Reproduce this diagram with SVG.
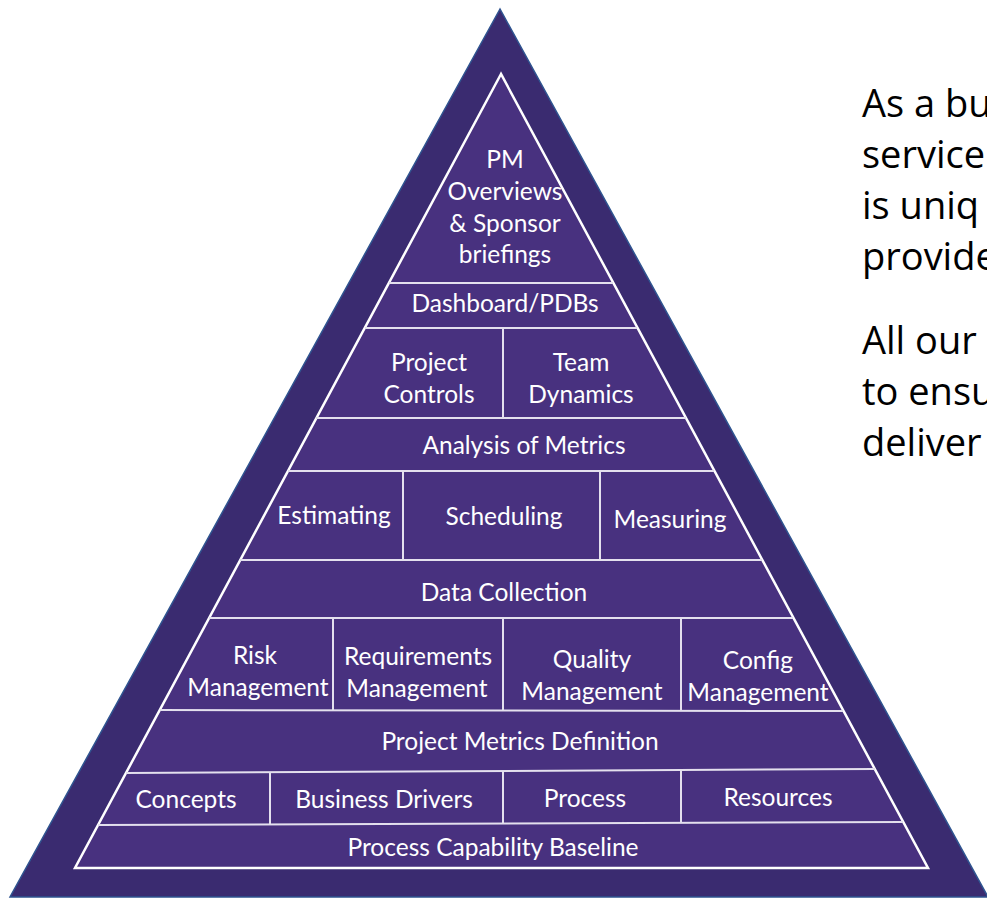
<svg xmlns="http://www.w3.org/2000/svg" width="987" height="898" viewBox="0 0 987 898">
  <style>
    .lbl { font-family: Lato, "Open Sans", "Liberation Sans", sans-serif; font-size: 24.5px; fill: #ffffff; text-anchor: middle; }
    .body { font-family: "Open Sans", Lato, "Liberation Sans", sans-serif; font-size: 38px; fill: #000000; }
    .div { stroke: #e4e0ee; stroke-width: 2; fill: none; }
  </style>
  <rect width="987" height="898" fill="#ffffff"/>
  <g id="frame">
    <polygon points="500,9 10,897 988,897" fill="#3a2b70" stroke="#2f5490" stroke-width="1.5"/>
    <polygon points="501,74 75,868 928,868" fill="#48317f" stroke="#ffffff" stroke-width="2.5"/>
  </g>
  <g id="connectors">
    <line class="div" x1="389" y1="283" x2="613" y2="283"/>
    <line class="div" x1="365" y1="328" x2="637" y2="328"/>
    <line class="div" x1="316" y1="418" x2="686" y2="418"/>
    <line class="div" x1="288" y1="471" x2="714" y2="471"/>
    <line class="div" x1="240" y1="560" x2="762" y2="560"/>
    <line class="div" x1="209" y1="618" x2="793" y2="618"/>
    <line class="div" x1="160" y1="710" x2="843" y2="711"/>
    <line class="div" x1="126" y1="773" x2="875" y2="769"/>
    <line class="div" x1="98" y1="825" x2="903" y2="822"/>
    <line class="div" x1="503" y1="328" x2="503" y2="418"/>
    <line class="div" x1="403" y1="471" x2="403" y2="560"/>
    <line class="div" x1="600" y1="471" x2="600" y2="560"/>
    <line class="div" x1="333" y1="618" x2="333" y2="710"/>
    <line class="div" x1="503" y1="618" x2="503" y2="711"/>
    <line class="div" x1="681" y1="618" x2="681" y2="711"/>
    <line class="div" x1="270" y1="772" x2="270" y2="825"/>
    <line class="div" x1="503" y1="771" x2="503" y2="824"/>
    <line class="div" x1="681" y1="770" x2="681" y2="823"/>
  </g>
  <g id="pm-overviews">
    <text class="lbl" x="505" y="168">PM</text>
    <text class="lbl" x="505" y="200">Overviews</text>
    <text class="lbl" x="505" y="232">&amp; Sponsor</text>
    <text class="lbl" x="505" y="263">briefings</text>
  </g>
  <g id="dashboard"><text class="lbl" x="505" y="312">Dashboard/PDBs</text></g>
  <g id="project-controls">
    <text class="lbl" x="429" y="371">Project</text>
    <text class="lbl" x="429" y="403">Controls</text>
  </g>
  <g id="team-dynamics">
    <text class="lbl" x="581" y="371">Team</text>
    <text class="lbl" x="581" y="403">Dynamics</text>
  </g>
  <g id="analysis"><text class="lbl" x="524" y="454">Analysis of Metrics</text></g>
  <g id="estimating"><text class="lbl" x="334" y="524">Estimating</text></g>
  <g id="scheduling"><text class="lbl" x="504" y="525">Scheduling</text></g>
  <g id="measuring"><text class="lbl" x="670" y="528">Measuring</text></g>
  <g id="data-collection"><text class="lbl" x="504" y="601">Data Collection</text></g>
  <g id="risk">
    <text class="lbl" x="255" y="664">Risk</text>
    <text class="lbl" x="258" y="696">Management</text>
  </g>
  <g id="requirements">
    <text class="lbl" x="418" y="665">Requirements</text>
    <text class="lbl" x="417" y="697">Management</text>
  </g>
  <g id="quality">
    <text class="lbl" x="592" y="668">Quality</text>
    <text class="lbl" x="592" y="700">Management</text>
  </g>
  <g id="config">
    <text class="lbl" x="758" y="669">Config</text>
    <text class="lbl" x="758" y="701">Management</text>
  </g>
  <g id="metrics-definition"><text class="lbl" x="520" y="750">Project Metrics Definition</text></g>
  <g id="concepts"><text class="lbl" x="186" y="808">Concepts</text></g>
  <g id="business-drivers"><text class="lbl" x="384" y="808">Business Drivers</text></g>
  <g id="process"><text class="lbl" x="585" y="807">Process</text></g>
  <g id="resources"><text class="lbl" x="778" y="806">Resources</text></g>
  <g id="baseline"><text class="lbl" x="493" y="856">Process Capability Baseline</text></g>
  <g id="side-text">
    <text class="body" x="862" y="117">As a bu</text>
    <text class="body" x="862" y="168">service</text>
    <text class="body" x="862" y="219">is uniq</text>
    <text class="body" x="862" y="270">provide</text>
    <text class="body" x="862" y="354">All our</text>
    <text class="body" x="862" y="405">to ensu</text>
    <text class="body" x="862" y="456">deliver</text>
  </g>
</svg>
